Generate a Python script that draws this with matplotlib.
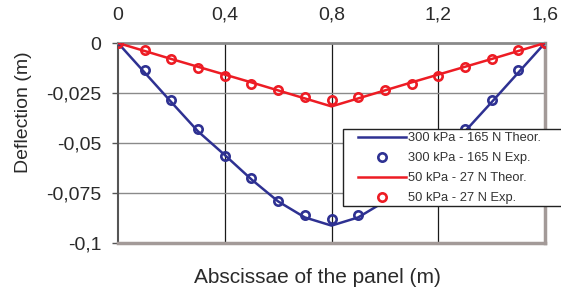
import numpy as np
import matplotlib
matplotlib.use("Agg")
import matplotlib.pyplot as plt
from matplotlib.patches import Rectangle

plt.rcParams['font.family'] = ['Liberation Sans', 'DejaVu Sans']

# abscissae of the panel (m)
x_pts = [0, 0.1, 0.2, 0.3, 0.4, 0.5, 0.6, 0.7, 0.8, 0.9, 1.0, 1.1, 1.2, 1.3, 1.4, 1.5, 1.6]

# 300 kPa - 165 N
blue_theor = [0, -0.0148, -0.0296, -0.0442, -0.0560, -0.0682, -0.0792, -0.0872, -0.0913,
              -0.0872, -0.0792, -0.0682, -0.0560, -0.0442, -0.0296, -0.0148, 0]
blue_exp = [0, -0.0133, -0.0283, -0.0428, -0.0563, -0.0677, -0.0790, -0.0862, -0.0882,
            -0.0862, -0.0790, -0.0677, -0.0563, -0.0428, -0.0283, -0.0133, 0]

# 50 kPa - 27 N
red_theor = [0, -0.0040, -0.0080, -0.0119, -0.0158, -0.0197, -0.0237, -0.0277, -0.0317,
             -0.0277, -0.0237, -0.0197, -0.0158, -0.0119, -0.0080, -0.0040, 0]
red_exp = [0, -0.0033, -0.0080, -0.0123, -0.0163, -0.0205, -0.0237, -0.0268, -0.0285,
           -0.0268, -0.0237, -0.0205, -0.0163, -0.0122, -0.0080, -0.0033, 0]

xticks = [0, 0.4, 0.8, 1.2, 1.6]
xtick_labels = ["0", "0,4", "0,8", "1,2", "1,6"]
yticks = [0, -0.025, -0.05, -0.075, -0.1]
ytick_labels = ["0", "-0,025", "-0,05", "-0,075", "-0,1"]

blue = "#2e3192"
red = "#ed1c24"
txt = "#2a2a2a"

W, H = 561, 294
fig = plt.figure(figsize=(W/100, H/100), dpi=100)
ax = fig.add_axes([118/W, 1-243/H, (545-118)/W, 200/H])

# grid
for xv in xticks[1:-1]:
    ax.axvline(xv, color="#1a1a1a", lw=0.9, zorder=1)
for yv in yticks[1:-1]:
    ax.axhline(yv, color="#8a8a8a", lw=1.0, zorder=1)

ax.plot(x_pts, blue_theor, color=blue, lw=1.8, label="300 kPa - 165 N Theor.", zorder=3)
ax.plot(x_pts, blue_exp, 'o', mfc='none', mec=blue, ms=6, mew=1.9, label="300 kPa - 165 N Exp.", zorder=4)
ax.plot(x_pts, red_theor, color=red, lw=1.8, label="50 kPa - 27 N Theor.", zorder=3)
ax.plot(x_pts, red_exp, 'o', mfc='none', mec=red, ms=6, mew=1.9, label="50 kPa - 27 N Exp.", zorder=4)

ax.set_xlim(0, 1.6)
ax.set_ylim(-0.1, 0)
ax.xaxis.tick_top()
ax.set_xticks(xticks)
ax.set_xticklabels(xtick_labels)
ax.set_yticks(yticks)
ax.set_yticklabels(ytick_labels)
ax.tick_params(axis='x', length=0, pad=14, labelsize=14, colors=txt)
ax.tick_params(axis='y', length=4.5, width=1, color="#555555", pad=7.5, labelsize=14, labelcolor=txt)

ax.spines['top'].set_color("#8a8a8a")
ax.spines['top'].set_linewidth(2)
ax.spines['left'].set_color("#555555")
ax.spines['left'].set_linewidth(1.5)
for s in ['bottom', 'right']:
    ax.spines[s].set_color("#a39a98")
    ax.spines[s].set_linewidth(2.5)

fig.text(24/W, 1-112/H, "Deflection (m)", fontsize=14, color=txt,
         rotation=90, ha='center', va='center')
fig.text(317/W, 1-283/H, "Abscissae of the panel (m)", fontsize=15, color=txt,
         ha='center', va='baseline')

# legend box runs past the right edge of the picture
box = Rectangle((343/W, 1-206/H), (580-343)/W, (206-129)/H, transform=fig.transFigure,
                facecolor="white", edgecolor="#222222", lw=1, zorder=2)
fig.patches.append(box)

handles, labels = ax.get_legend_handles_labels()
leg = fig.legend(handles, labels, loc='upper left', bbox_to_anchor=(358/W, 1-132/H),
                 prop={'size': 9.3}, frameon=False,
                 handlelength=3.7, handletextpad=0.15, labelspacing=0.62,
                 borderpad=0, borderaxespad=0)
leg.set_zorder(5)
for t in leg.get_texts():
    t.set_color("#333333")

fig.savefig("out.png", dpi=100)
